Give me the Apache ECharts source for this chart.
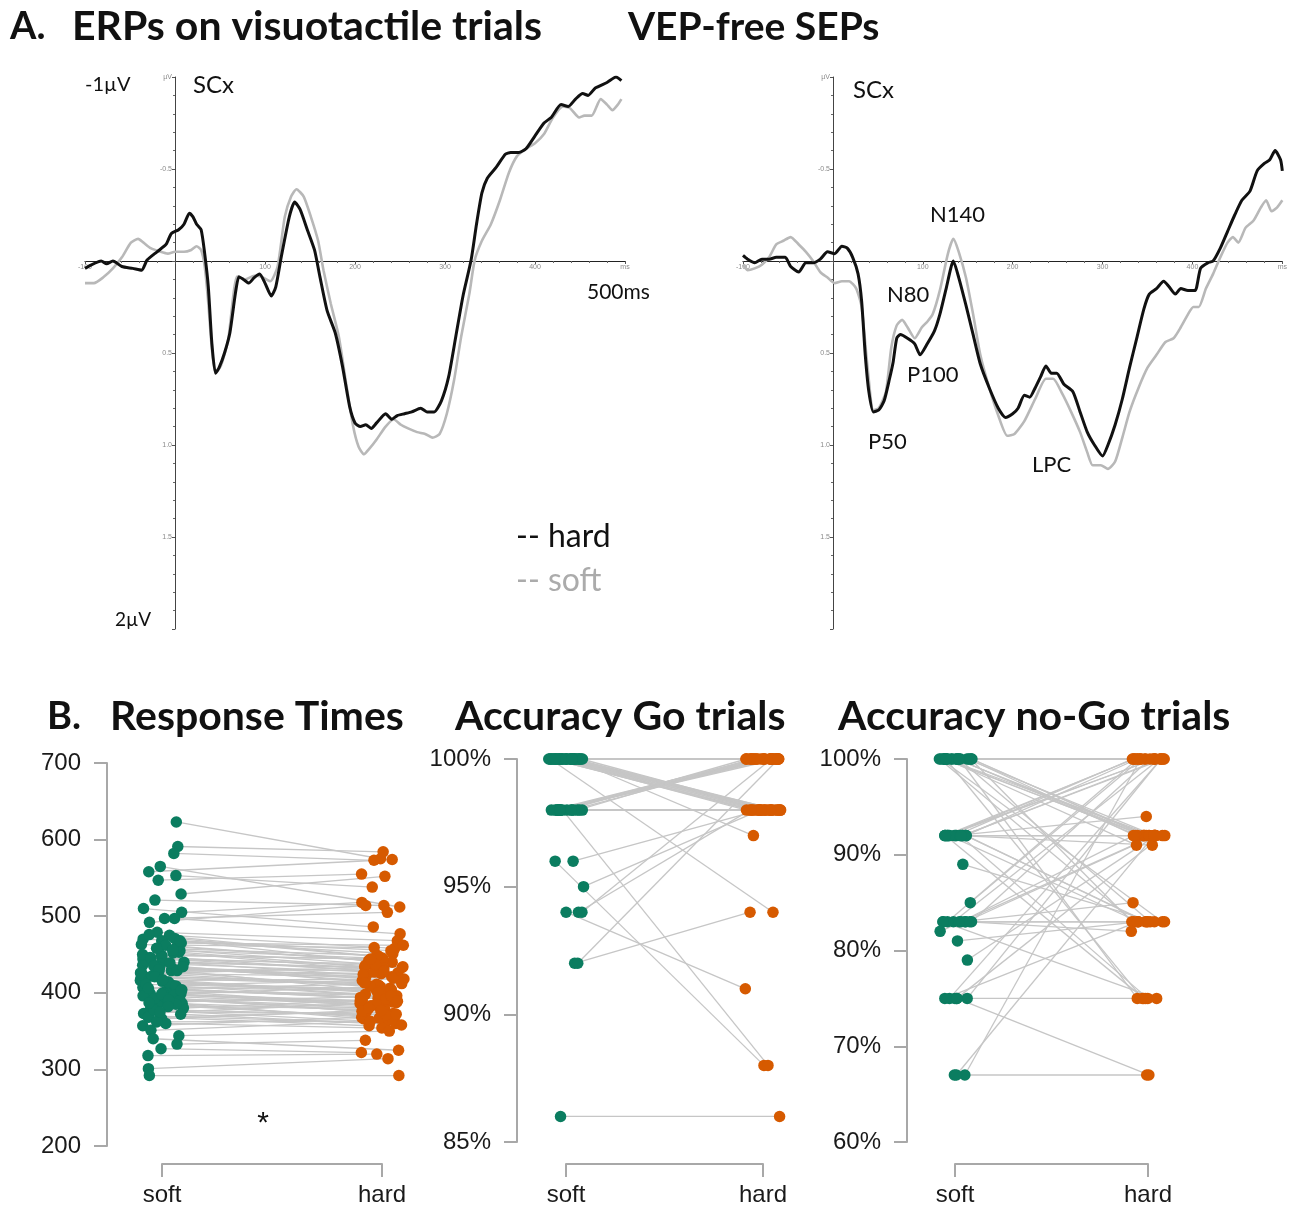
<!DOCTYPE html>
<html><head><meta charset="utf-8">
<script src="https://cdn.jsdelivr.net/npm/echarts@6.0.0/dist/echarts.min.js"></script>
<style>html,body{margin:0;padding:0;background:#fff}#c{width:1290px;height:1209px}</style>
</head><body><div id="c"></div>
<script>
// ---------- DATA ----------
// ERP traces: [time ms, amplitude µV]
const erpLeftHard = [[-100,0.04],[-82,0.0],[-76,0.015],[-69,0.0],[-59,0.03],[-47,0.04],[-37,0.05],[-31,-0.005],[-20,-0.05],[-10,-0.09],[-4,-0.15],[4,-0.17],[10,-0.2],[16,-0.26],[20,-0.24],[24,-0.2],[29,-0.17],[33,-0.04],[37,0.14],[41,0.45],[45,0.61],[49,0.58],[55,0.5],[61,0.39],[67,0.18],[71,0.085],[76,0.1],[82,0.12],[88,0.09],[94,0.07],[100,0.12],[107,0.19],[112,0.14],[118,-0.02],[127,-0.24],[133,-0.32],[139,-0.28],[147,-0.17],[155,-0.06],[161,0.085],[169,0.27],[178,0.39],[186,0.57],[194,0.79],[200,0.88],[206,0.9],[212,0.89],[218,0.91],[224,0.88],[234,0.83],[241,0.86],[247,0.84],[255,0.83],[263,0.82],[273,0.8],[280,0.82],[288,0.82],[296,0.76],[304,0.63],[312,0.41],[320,0.19],[329,-0.005],[335,-0.2],[341,-0.37],[347,-0.45],[357,-0.51],[367,-0.58],[373,-0.59],[382,-0.59],[390,-0.61],[400,-0.68],[410,-0.75],[418,-0.78],[429,-0.85],[437,-0.84],[445,-0.88],[453,-0.91],[459,-0.9],[467,-0.94],[480,-0.97],[490,-1.0],[496,-0.98]];
const erpLeftSoft = [[-100,0.12],[-90,0.12],[-80,0.09],[-69,0.04],[-59,-0.02],[-49,-0.1],[-41,-0.12],[-35,-0.1],[-27,-0.07],[-16,-0.05],[-8,-0.04],[0,-0.05],[10,-0.05],[18,-0.06],[24,-0.08],[29,-0.06],[33,0.03],[37,0.23],[41,0.48],[45,0.61],[51,0.57],[59,0.43],[65,0.18],[69,0.085],[78,0.1],[88,0.08],[96,0.085],[106,0.11],[114,0.03],[122,-0.24],[129,-0.35],[135,-0.39],[143,-0.35],[151,-0.24],[159,-0.11],[165,0.05],[173,0.23],[182,0.41],[190,0.66],[198,0.9],[204,1.01],[210,1.05],[216,1.02],[224,0.97],[234,0.9],[243,0.86],[251,0.89],[259,0.91],[269,0.93],[278,0.94],[286,0.96],[294,0.94],[302,0.83],[310,0.65],[318,0.41],[327,0.18],[333,-0.005],[341,-0.11],[351,-0.2],[361,-0.33],[371,-0.48],[380,-0.57],[390,-0.61],[400,-0.64],[410,-0.69],[420,-0.78],[431,-0.84],[439,-0.83],[449,-0.78],[455,-0.79],[463,-0.79],[473,-0.88],[480,-0.85],[486,-0.82],[492,-0.85],[496,-0.88]];
const erpRightHard = [[-100,-0.03],[-95,-0.01],[-87,0.01],[-79,-0.01],[-71,-0.01],[-63,-0.02],[-53,-0.02],[-47,0.03],[-38,0.06],[-30,0.01],[-22,0.01],[-14,-0.01],[-6,-0.05],[2,-0.04],[10,-0.08],[16,-0.07],[22,-0.02],[28,0.07],[32,0.22],[36,0.51],[40,0.71],[45,0.82],[51,0.81],[57,0.76],[63,0.64],[67,0.55],[71,0.42],[75,0.4],[83,0.42],[91,0.45],[97,0.51],[105,0.45],[113,0.38],[119,0.29],[126,0.15],[134,0.0],[140,0.09],[148,0.24],[156,0.4],[164,0.56],[174,0.69],[184,0.8],[192,0.85],[200,0.83],[206,0.8],[213,0.73],[219,0.74],[225,0.69],[231,0.63],[237,0.57],[243,0.61],[249,0.61],[257,0.67],[267,0.71],[275,0.82],[283,0.93],[291,1.0],[300,1.06],[306,1.0],[314,0.89],[322,0.75],[330,0.58],[338,0.42],[346,0.26],[352,0.18],[360,0.15],[368,0.11],[374,0.14],[381,0.18],[387,0.15],[395,0.16],[403,0.16],[409,0.04],[417,0.01],[423,0.0],[431,-0.07],[439,-0.16],[447,-0.25],[455,-0.33],[464,-0.38],[472,-0.49],[480,-0.53],[486,-0.55],[492,-0.6],[498,-0.55],[500,-0.49]];
const erpRightSoft = [[-100,0.02],[-95,0.05],[-87,0.04],[-79,0.02],[-71,-0.02],[-63,-0.09],[-55,-0.11],[-47,-0.13],[-38,-0.09],[-30,-0.05],[-22,0.0],[-14,0.06],[-6,0.09],[2,0.12],[10,0.11],[18,0.11],[26,0.15],[32,0.25],[38,0.55],[45,0.81],[51,0.8],[59,0.71],[65,0.47],[71,0.35],[77,0.32],[83,0.36],[91,0.42],[99,0.36],[105,0.33],[111,0.29],[119,0.16],[128,-0.04],[134,-0.12],[140,-0.05],[148,0.09],[156,0.29],[164,0.51],[174,0.69],[184,0.84],[194,0.95],[202,0.94],[213,0.87],[225,0.75],[237,0.64],[245,0.64],[255,0.72],[265,0.82],[275,0.93],[283,1.04],[289,1.11],[298,1.11],[306,1.13],[314,1.09],[322,0.96],[330,0.82],[340,0.69],[350,0.58],[360,0.51],[370,0.44],[379,0.42],[387,0.36],[395,0.29],[401,0.25],[407,0.25],[415,0.15],[423,0.07],[431,-0.02],[439,-0.1],[445,-0.13],[451,-0.1],[459,-0.18],[468,-0.22],[476,-0.29],[482,-0.33],[488,-0.27],[494,-0.29],[500,-0.33]];

const conditions = ['soft', 'hard'];

// Response times (ms), one entry per participant, paired soft/hard
const rtSoft = [623,591,582,565,558,553,547,529,521,510,505,497,497,492,479,475,471,468,462,455,453,449,447,444,440,436,431,429,429,425,425,420,416,415,412,410,407,407,405,402,401,399,399,396,395,392,388,386,384,380,377,373,370,368,368,366,360,357,351,344,340,333,327,318,301,292,
  470,465,460,458,452,446,442,438,434,433,428,422,418,414,409,404,400,397,393,390,385,378,372,362,
  476,468,463,456,450,445,439,435,430,426,421,417,411,406,403,398,391,387,382,375];
const rtHard = [575,584,573,512,574,538,555,552,514,486,518,505,477,514,468,458,447,451,440,445,434,444,426,438,432,416,429,425,401,421,434,410,418,395,405,416,393,403,412,386,399,390,408,373,384,381,396,366,370,390,362,388,360,375,357,378,354,368,364,350,325,338,322,320,314,292,
  455,462,442,449,430,436,423,427,414,419,406,411,398,402,391,394,383,387,376,379,367,371,358,363,
  448,441,459,437,444,428,433,419,424,409,413,400,404,392,396,385,389,377,380,372];

// Accuracy on Go trials (%)
const goSoft = [86,92,92,94,94,94,95,96,96,98,98,98,98,98,98,98,98,98,98,98,98,98,98,98,98,98,98,100,100,100,100,100,100,100,100,100,100,100,100,100,100,100,100,100,100,100,100,100,100,100,100,100,100,100,100,100,100,100,100,100,100,100,100,100,100,100];
const goHard = [86,94,100,98,91,100,98,98,88,88,100,100,100,100,100,100,100,100,100,100,98,98,98,98,98,98,98,97,94,98,98,98,98,98,98,98,98,98,98,98,98,98,98,98,100,100,100,100,100,100,100,100,100,100,100,100,100,100,100,100,100,100,100,100,100,100];

// Accuracy on no-Go trials (%)
const ngSoft = [100,100,100,100,100,100,100,100,100,100,100,100,100,100,100,100,100,100,100,100,100,100,100,100,92,92,92,92,92,92,92,92,92,92,92,92,92,92,92,92,92,92,89,85,83,83,83,83,83,83,83,83,83,83,82,81,79,75,75,75,75,75,75,67,67,67];
const ngHard = [100,100,100,100,100,100,100,92,92,92,92,92,92,92,92,92,92,91,83,83,83,83,75,75,100,100,100,100,100,100,100,100,92,92,92,94,83,83,83,75,75,91,83,100,100,100,100,92,92,83,83,75,85,82,92,83,92,100,100,92,75,67,83,67,100,92];

// ---------- CHART ----------
const chart = echarts.init(document.getElementById('c'), null, {renderer: 'canvas'});
const GREEN = '#0b7d60', ORANGE = '#d65a00', PAIRLINE = '#c6c6c6';
const SANS = 'Liberation Sans', CAL = 'Lato';
const ERP_W = 540, ERP_H = 552;

function erpX(g) {
  return {gridIndex: g, type: 'value', min: -100, max: 500, interval: 100, position: 'bottom',
    offset: -ERP_H * 2 / 3,
    axisLine: {onZero: false, lineStyle: {color: '#222', width: 1.2}},
    axisTick: {show: true, length: 3, lineStyle: {color: '#555'}},
    minorTick: {show: true, splitNumber: 5, length: 2, lineStyle: {color: '#666'}},
    splitLine: {show: false}, minorSplitLine: {show: false},
    axisLabel: {fontSize: 7, color: '#8a8a8a', margin: 3,
      formatter: v => v === 0 ? '' : (v === 500 ? 'ms' : String(v))}};
}
function erpY(g) {
  return {gridIndex: g, type: 'value', inverse: true, min: -1, max: 2, interval: 0.5, position: 'left',
    offset: -ERP_W / 6,
    axisLine: {show: true, onZero: false, lineStyle: {color: '#444', width: 1}},
    axisTick: {show: true, length: 3, lineStyle: {color: '#555'}},
    minorTick: {show: true, splitNumber: 5, length: 2, lineStyle: {color: '#666'}},
    splitLine: {show: false}, minorSplitLine: {show: false},
    axisLabel: {fontSize: 7, color: '#8a8a8a', margin: 3,
      formatter: v => v === -1 ? 'µV' : ((v === 0 || v === 2) ? '' : v.toFixed(1))}};
}
function mainX(g, jit) {
  return {gridIndex: g, type: 'category', data: ['soft', '', 'hard'], show: false,
    jitter: jit, jitterOverlap: true};
}
function bracketX(g) {
  return {gridIndex: g, type: 'category', data: conditions, boundaryGap: false,
    axisLine: {show: true, lineStyle: {color: '#a8a8a8', width: 2}},
    axisTick: {show: true, length: 13, lineStyle: {color: '#a8a8a8', width: 2}},
    axisLabel: {fontSize: 24, fontFamily: SANS, color: '#1a1a1a', margin: 19}};
}
function mainY(g, min, max, step, fmt) {
  return {gridIndex: g, type: 'value', min: min, max: max, interval: step,
    axisLine: {show: true, lineStyle: {color: '#a8a8a8', width: 2}},
    axisTick: {show: true, length: 13, lineStyle: {color: '#a8a8a8', width: 2}},
    splitLine: {show: false},
    axisLabel: {fontSize: 24, fontFamily: SANS, color: '#1a1a1a', margin: 26, formatter: fmt}};
}
function hiddenY(g) { return {gridIndex: g, type: 'value', show: false, splitLine: {show: false}}; }

function erpLine(name, data, g, color, width, z) {
  return {name: name, type: 'line', xAxisIndex: g, yAxisIndex: g, data: data, symbol: 'none',
    smooth: 0.2, lineStyle: {color: color, width: width}, itemStyle: {color: color}, z: z, silent: true};
}
function pairLines(softSeriesIdx, hardSeriesIdx, n) {
  const d = [];
  for (let i = 0; i < n; i++) d.push([i]);
  return {type: 'custom', coordinateSystem: 'none', z: 1, silent: true, data: d,
    renderItem: function (params, api) {
      const m = chart.getModel();
      const sd = m.getSeriesByIndex(softSeriesIdx).getData();
      const hd = m.getSeriesByIndex(hardSeriesIdx).getData();
      const a = sd.getItemLayout(params.dataIndex), b = hd.getItemLayout(params.dataIndex);
      if (!a || !b) return null;
      return {type: 'line', shape: {x1: a[0], y1: a[1], x2: b[0], y2: b[1]},
        style: {stroke: PAIRLINE, lineWidth: 1.3}};
    }};
}
function dots(name, values, cat, axis, color) {
  return {name: name, type: 'scatter', xAxisIndex: axis, yAxisIndex: axis,
    data: values.map(v => [cat, v]), symbolSize: 11.5, z: 3, silent: true,
    itemStyle: {color: color, opacity: 1}};
}
function txt(text, x, y, size, opt) {
  opt = opt || {};
  return {type: 'text', x: x, y: y, z: 10, silent: true,
    style: {text: text, fontSize: size, fontFamily: opt.font || CAL, fontWeight: opt.bold ? 'bold' : 'normal',
      fill: opt.color || '#111', verticalAlign: 'middle', align: opt.align || 'left'}};
}

const option = {
  animation: false,
  backgroundColor: '#fff',
  grid: [
    {left: 85, top: 77, width: ERP_W, height: ERP_H},
    {left: 743, top: 77, width: ERP_W, height: ERP_H},
    {left: 107, top: 763, width: 330, height: 383},
    {left: 162, top: 1137, width: 220, height: 27},
    {left: 517, top: 759, width: 295.5, height: 383},
    {left: 566, top: 1137, width: 197, height: 27},
    {left: 907, top: 759, width: 289.5, height: 383},
    {left: 955, top: 1137, width: 193, height: 27}
  ],
  xAxis: [erpX(0), erpX(1), mainX(2, 44), bracketX(3), mainX(4, 36), bracketX(5), mainX(6, 34), bracketX(7)],
  yAxis: [erpY(0), erpY(1),
    mainY(2, 200, 700, 100, '{value}'), hiddenY(3),
    mainY(4, 85, 100, 5, '{value}%'), hiddenY(5),
    mainY(6, 60, 100, 10, '{value}%'), hiddenY(7)],
  legend: {left: 506, top: 516, orient: 'vertical', icon: 'none', itemWidth: 0, itemGap: 12,
    selectedMode: false, formatter: '-- {name}',
    textStyle: {fontSize: 32, fontFamily: CAL},
    data: [{name: 'hard', textStyle: {color: '#111'}}, {name: 'soft', textStyle: {color: '#ababab'}}]},
  series: [
    erpLine('soft', erpLeftSoft, 0, '#b8b8b8', 2.6, 2),
    erpLine('hard', erpLeftHard, 0, '#111', 3, 3),
    erpLine('soft', erpRightSoft, 1, '#b8b8b8', 2.6, 2),
    erpLine('hard', erpRightHard, 1, '#111', 3, 3),
    pairLines(5, 6, rtSoft.length),
    dots('soft', rtSoft, 0, 2, GREEN),
    dots('hard', rtHard, 2, 2, ORANGE),
    pairLines(8, 9, goSoft.length),
    dots('soft', goSoft, 0, 4, GREEN),
    dots('hard', goHard, 2, 4, ORANGE),
    pairLines(11, 12, ngSoft.length),
    dots('soft', ngSoft, 0, 6, GREEN),
    dots('hard', ngHard, 2, 6, ORANGE)
  ],
  graphic: [
    txt('A.', 10, 27, 38, {bold: true}),
    txt('ERPs on visuotactile trials', 72, 27, 41, {bold: true}),
    txt('VEP-free SEPs', 628, 27, 39, {bold: true}),
    txt('-1µV', 85, 85, 20),
    txt('SCx', 193, 85, 24),
    txt('500ms', 587, 292, 21),
    txt('2µV', 115, 620, 19),
    txt('SCx', 853, 90, 24),
    txt('N140', 930, 215, 22),
    txt('N80', 887, 295, 22),
    txt('P100', 907, 375, 22),
    txt('P50', 868, 442, 22),
    txt('LPC', 1032, 465, 22),
    txt('B.', 47, 717, 38, {bold: true}),
    txt('Response Times', 110, 717, 41, {bold: true}),
    txt('Accuracy Go trials', 455, 717, 41, {bold: true}),
    txt('Accuracy no-Go trials', 838, 717, 41, {bold: true}),
    txt('*', 263, 1124, 30, {align: 'center', font: SANS})
  ]
};
chart.setOption(option);
</script>
</body></html>
